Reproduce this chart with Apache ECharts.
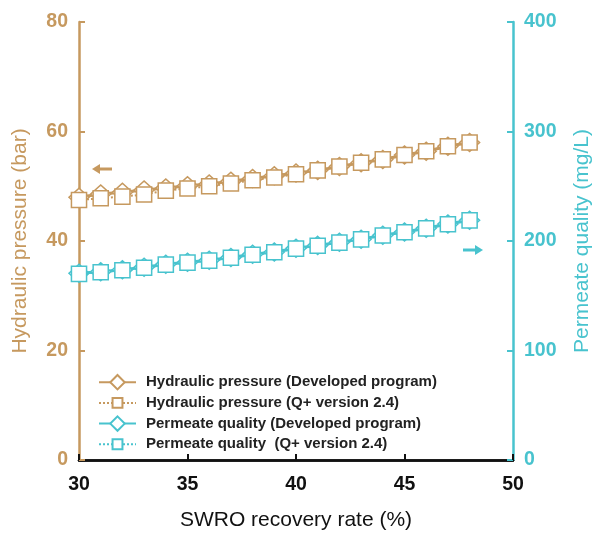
<!DOCTYPE html>
<html>
<head>
<meta charset="utf-8">
<script src="https://cdn.jsdelivr.net/npm/echarts@6/dist/echarts.min.js"></script>
<style>html,body{margin:0;padding:0;background:#fff;overflow:hidden;}#c{position:absolute;left:0;top:0;width:601px;height:536px;}</style>
</head>
<body>
<div id="c"></div>
<script>
const recovery = [30,31,32,33,34,35,36,37,38,39,40,41,42,43,44,45,46,47,48];
const pressureDeveloped = [48.0,48.6,48.9,49.3,49.7,50.1,50.4,50.9,51.4,51.9,52.4,52.9,53.6,54.3,54.9,55.7,56.4,57.3,58.0];
const pressureQplus = [47.5,47.8,48.1,48.5,49.2,49.6,50.0,50.5,51.1,51.6,52.2,52.9,53.6,54.3,54.9,55.7,56.4,57.3,58.0];
const qualityDeveloped = [170.5,172,173.8,176,178.8,180.7,182.5,185,187.8,190,193.3,196,198.8,201.7,205.2,208.2,211.7,215.5,219];
const qualityQplus = [170,171.5,173.3,175.6,178.4,180.3,182.1,184.7,187.5,189.7,193,195.7,198.5,201.5,205,208,211.5,215.3,218.8];
const leftTicks = [0,20,40,60,80];
const rightTicks = [0,100,200,300,400];
const xTicks = [30,35,40,45,50];

const TAN = '#C6995F';
const CYAN = '#48C3CE';
const FONT = 'Liberation Sans, Arial, sans-serif';
// square drawn inside a larger (invisible) box so the legend square is smaller than the legend diamond
const SQUARE = 'path://M0,0M16,16M2.5,2.5h11v11h-11z';

function pairs(ys){ return recovery.map((x,i)=>[x, ys[i]]); }

const chart = echarts.init(document.getElementById('c'), null, {renderer:'canvas', width:601, height:536});
chart.setOption({
  animation:false,
  backgroundColor:'#fff',
  grid:{left:79, right:78, top:22, bottom:74, containLabel:false},
  legend:{
    orient:'vertical', left:93, top:369, itemWidth:37, itemHeight:18, itemGap:4.3,
    textStyle:{fontFamily:FONT, fontSize:15, fontWeight:'bold', color:'#222', padding:[0,0,0,5]},
    data:['Hydraulic pressure (Developed program)','Hydraulic pressure (Q+ version 2.4)','Permeate quality (Developed program)','Permeate quality  (Q+ version 2.4)']
  },
  xAxis:[{
    type:'value', min:xTicks[0], max:xTicks[xTicks.length-1], interval:5, position:'bottom',
    name:'SWRO recovery rate (%)', nameLocation:'middle', nameGap:50,
    nameTextStyle:{fontFamily:FONT, fontSize:21, color:'#111'},
    axisLine:{show:true, lineStyle:{color:'#111', width:2.5}},
    axisTick:{show:true, inside:true, length:6, lineStyle:{color:'#111', width:2}},
    axisLabel:{fontFamily:FONT, fontSize:19.5, fontWeight:'bold', color:'#111', margin:15},
    splitLine:{show:false}
  },{
    type:'value', min:30, max:50, position:'top',
    axisLine:{show:true, lineStyle:{color:'#111', width:2.5}},
    axisTick:{show:false}, axisLabel:{show:false}, splitLine:{show:false}
  }],
  yAxis:[{
    type:'value', min:leftTicks[0], max:leftTicks[leftTicks.length-1], interval:20, position:'left',
    name:'Hydraulic pressure (bar)', nameLocation:'middle', nameGap:48,
    nameTextStyle:{fontFamily:FONT, fontSize:21, color:TAN},
    axisLine:{show:true, lineStyle:{color:TAN, width:2.5}},
    axisTick:{show:true, inside:true, length:6, lineStyle:{color:TAN, width:2}},
    axisLabel:{fontFamily:FONT, fontSize:19.5, fontWeight:'bold', color:TAN, margin:11},
    splitLine:{show:false}
  },{
    type:'value', min:rightTicks[0], max:rightTicks[rightTicks.length-1], interval:100, position:'right',
    name:'Permeate quality (mg/L)', nameLocation:'middle', nameGap:59,
    nameTextStyle:{fontFamily:FONT, fontSize:21, color:CYAN},
    axisLine:{show:true, lineStyle:{color:CYAN, width:2.5}},
    axisTick:{show:true, inside:true, length:6, lineStyle:{color:CYAN, width:2}},
    axisLabel:{fontFamily:FONT, fontSize:19.5, fontWeight:'bold', color:CYAN, margin:11},
    splitLine:{show:false}
  }],
  series:[{
    name:'Hydraulic pressure (Developed program)', type:'line', xAxisIndex:0, yAxisIndex:0,
    data:pairs(pressureDeveloped), symbol:'diamond', symbolSize:[20,18],
    lineStyle:{color:TAN, width:3}, itemStyle:{color:'#fff', borderColor:TAN, borderWidth:1.5}, z:2
  },{
    name:'Hydraulic pressure (Q+ version 2.4)', type:'line', xAxisIndex:0, yAxisIndex:0,
    data:pairs(pressureQplus), symbol:SQUARE, symbolSize:22,
    lineStyle:{color:TAN, width:2, type:'dotted'}, itemStyle:{color:'#fff', borderColor:TAN, borderWidth:1.5}, z:3
  },{
    name:'Permeate quality (Developed program)', type:'line', xAxisIndex:0, yAxisIndex:1,
    data:pairs(qualityDeveloped), symbol:'diamond', symbolSize:[20,18],
    lineStyle:{color:CYAN, width:3}, itemStyle:{color:'#fff', borderColor:CYAN, borderWidth:1.5}, z:2
  },{
    name:'Permeate quality  (Q+ version 2.4)', type:'line', xAxisIndex:0, yAxisIndex:1,
    data:pairs(qualityQplus), symbol:SQUARE, symbolSize:22,
    lineStyle:{color:CYAN, width:2, type:'dotted'}, itemStyle:{color:'#fff', borderColor:CYAN, borderWidth:1.5}, z:3
  }],
  graphic:[
    {type:'group', left:92, top:164, children:[
      {type:'polygon', shape:{points:[[0,5],[8,0],[8,10]]}, style:{fill:TAN}},
      {type:'rect', shape:{x:7, y:3.5, width:13, height:3}, style:{fill:TAN}}
    ]},
    {type:'group', left:463, top:245, children:[
      {type:'rect', shape:{x:0, y:3.5, width:13, height:3}, style:{fill:CYAN}},
      {type:'polygon', shape:{points:[[12,0],[20,5],[12,10]]}, style:{fill:CYAN}}
    ]}
  ]
});
</script>
</body>
</html>
